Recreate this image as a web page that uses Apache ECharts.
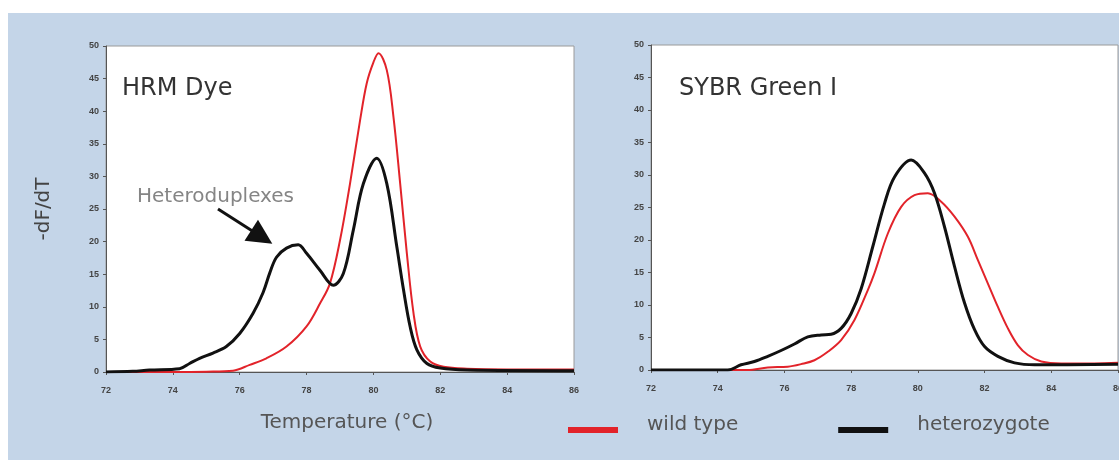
<!DOCTYPE html>
<html>
<head>
<meta charset="utf-8">
<script src="https://cdn.jsdelivr.net/npm/echarts@6/dist/echarts.min.js"></script>
<style>
html,body{margin:0;padding:0;background:#fff;}
#c{width:1119px;height:460px;}
</style>
</head>
<body>
<div id="c"></div>
<script>
// ---- data ----
const xTicks = [72, 74, 76, 78, 80, 82, 84, 86];
const panelTitles = ['HRM Dye', 'SYBR Green I'];
const seriesNames = ['wild type', 'heterozygote'];

const hrmWildT = [72, 73, 74, 75, 75.8, 76.3, 76.8, 77.4, 78.0, 78.4, 78.7, 79.0, 79.3, 79.6, 79.8, 80.0, 80.15, 80.4, 80.6, 80.8, 81.0, 81.2, 81.4, 81.7, 82.1, 82.8, 84, 86];
const hrmWildV = [0, 0, 0, 0.05, 0.2, 1.1, 2.1, 3.9, 7.0, 10.5, 13.6, 20.2, 28.9, 38.6, 44.3, 47.5, 48.9, 46.3, 39.1, 28.9, 18.2, 9.0, 3.9, 1.6, 0.8, 0.5, 0.4, 0.4];

const hrmHetT = [72, 72.8, 73.3, 74.2, 74.5, 74.8, 75.2, 75.6, 76.0, 76.4, 76.7, 76.9, 77.1, 77.4, 77.75, 78.0, 78.4, 78.8, 79.1, 79.4, 79.7, 80.1, 80.4, 80.7, 80.9, 81.1, 81.3, 81.6, 82.0, 82.8, 86];
const hrmHetV = [0, 0.1, 0.3, 0.5, 1.3, 2.1, 2.9, 3.9, 5.9, 9.0, 12.2, 15.2, 17.6, 19.0, 19.5, 18.2, 15.6, 13.3, 15.1, 21.8, 28.9, 32.8, 28.9, 19.2, 12.6, 6.9, 3.4, 1.3, 0.6, 0.3, 0.2];

const sybrWildT = [72, 74.9, 75.5, 76.1, 76.5, 76.9, 77.3, 77.7, 78.1, 78.5, 78.7, 79.1, 79.5, 79.9, 80.3, 80.7, 81.1, 81.5, 81.8, 82.1, 82.4, 82.7, 83.0, 83.3, 83.7, 84.3, 85.3, 86];
const sybrWildV = [0, 0, 0.4, 0.5, 0.9, 1.5, 2.8, 4.6, 7.7, 12.3, 14.9, 21.0, 25.1, 26.9, 27.2, 25.9, 23.6, 20.5, 16.9, 13.3, 9.7, 6.4, 3.8, 2.3, 1.3, 1.0, 1.0, 1.1];

const sybrHetT = [72, 74.3, 74.7, 75.1, 75.5, 75.9, 76.3, 76.7, 77.1, 77.4, 77.7, 78.0, 78.3, 78.65, 79.0, 79.3, 79.8, 80.2, 80.5, 80.8, 81.1, 81.4, 81.7, 82.0, 82.4, 82.9, 83.5, 86];
const sybrHetV = [0, 0, 0.8, 1.3, 2.1, 3.0, 4.0, 5.1, 5.4, 5.5, 6.4, 8.7, 12.5, 19.0, 25.6, 29.7, 32.3, 30.3, 27.2, 22.0, 15.9, 10.3, 6.2, 3.6, 2.1, 1.1, 0.8, 0.9];

// annotation arrow (data coordinates in HRM panel)
const arrowFrom = [75.35, 25.0];
const arrowTo = [76.66, 20.7];
const annotationText = 'Heteroduplexes';

// ---- chart ----
const FONT = 'DejaVu Sans';
const RED = '#e2232a';
const BLACK = '#111111';
const pairs = (xs, ys) => xs.map((x, i) => [x, ys[i]]);

function xAxisFor(idx, withName) {
  return {
    type: 'value', gridIndex: idx, min: xTicks[0], max: xTicks[xTicks.length - 1], interval: 2,
    axisLine: {lineStyle: {color: '#555', width: 1}},
    axisTick: {show: true, inside: false, length: 3, lineStyle: {color: '#555'}},
    axisLabel: {fontSize: 9, fontWeight: 'bold', color: '#444', fontFamily: 'Liberation Sans', margin: 14},
    splitLine: {show: false},
    name: withName ? 'Temperature (°C)' : '',
    nameLocation: 'middle', nameGap: 41,
    nameTextStyle: {fontSize: 20, color: '#555', fontFamily: FONT, padding: [0, 0, 0, 14]}
  };
}
function yAxisFor(idx, withName) {
  return {
    type: 'value', gridIndex: idx, min: 0, max: 50, interval: 5,
    axisLine: {show: true, lineStyle: {color: '#555', width: 1}},
    axisTick: {show: true, inside: false, length: 3, lineStyle: {color: '#555'}},
    axisLabel: {fontSize: 9, fontWeight: 'bold', color: '#444', fontFamily: 'Liberation Sans', margin: 7},
    splitLine: {show: false},
    name: withName ? '-dF/dT' : '',
    nameLocation: 'middle', nameGap: 52, nameRotate: 90,
    nameTextStyle: {fontSize: 20, color: '#444', fontFamily: FONT}
  };
}
function lineSeries(name, xi, data, color, width, extra) {
  return Object.assign({
    type: 'line', name: name, xAxisIndex: xi, yAxisIndex: xi,
    data: data, smooth: 0.35, showSymbol: false, symbol: 'none',
    lineStyle: {color: color, width: width}, itemStyle: {color: color},
    animation: false, silent: true
  }, extra || {});
}

const chart = echarts.init(document.getElementById('c'), null, {renderer: 'canvas'});
chart.setOption({
  backgroundColor: '#c4d5e8',
  animation: false,
  graphic: [
    {type: 'rect', shape: {x: 0, y: 0, width: 1119, height: 13}, style: {fill: '#ffffff'}, silent: true},
    {type: 'rect', shape: {x: 0, y: 0, width: 8, height: 460}, style: {fill: '#ffffff'}, silent: true}
  ],
  title: [
    {text: panelTitles[0], left: 122, top: 77, padding: 0, textStyle: {fontSize: 24, fontWeight: 'normal', color: '#333', fontFamily: FONT}},
    {text: panelTitles[1], left: 679, top: 77, padding: 0, textStyle: {fontSize: 24, fontWeight: 'normal', color: '#333', fontFamily: FONT}},
    {text: annotationText, left: 137, top: 187, padding: 0, textStyle: {fontSize: 20, fontWeight: 'normal', color: '#858585', fontFamily: FONT}}
  ],
  legend: {
    data: seriesNames, left: 568, top: 415, padding: 0, itemWidth: 50, itemHeight: 6, itemGap: 100,
    icon: 'rect', selectedMode: false,
    formatter: function (n) { return '{t|' + n + '}'; },
    textStyle: {
      fontSize: 20, color: '#555', fontFamily: FONT,
      rich: {t: {fontSize: 20, color: '#555', fontFamily: FONT, padding: [0, 0, 10, 24]}}
    }
  },
  grid: [
    {left: 106, top: 46, width: 468, height: 326, show: true, backgroundColor: '#ffffff', borderColor: '#9a9a9a', borderWidth: 1, outerBoundsMode: 'none', containLabel: false},
    {left: 651, top: 45, width: 467, height: 325, show: true, backgroundColor: '#ffffff', borderColor: '#9a9a9a', borderWidth: 1, outerBoundsMode: 'none', containLabel: false}
  ],
  xAxis: [xAxisFor(0, true), xAxisFor(1, false)],
  yAxis: [yAxisFor(0, true), yAxisFor(1, false)],
  series: [
    lineSeries(seriesNames[0], 0, pairs(hrmWildT, hrmWildV), RED, 2),
    lineSeries(seriesNames[1], 0, pairs(hrmHetT, hrmHetV), BLACK, 3, {
      markLine: {
        silent: true, animation: false,
        symbol: ['none', 'triangle'], symbolSize: 25,
        label: {show: false},
        lineStyle: {color: BLACK, width: 3, type: 'solid'},
        itemStyle: {color: BLACK},
        data: [[{coord: arrowFrom}, {coord: arrowTo}]]
      }
    }),
    lineSeries(seriesNames[0], 1, pairs(sybrWildT, sybrWildV), RED, 2),
    lineSeries(seriesNames[1], 1, pairs(sybrHetT, sybrHetV), BLACK, 3)
  ]
});
</script>
</body>
</html>
